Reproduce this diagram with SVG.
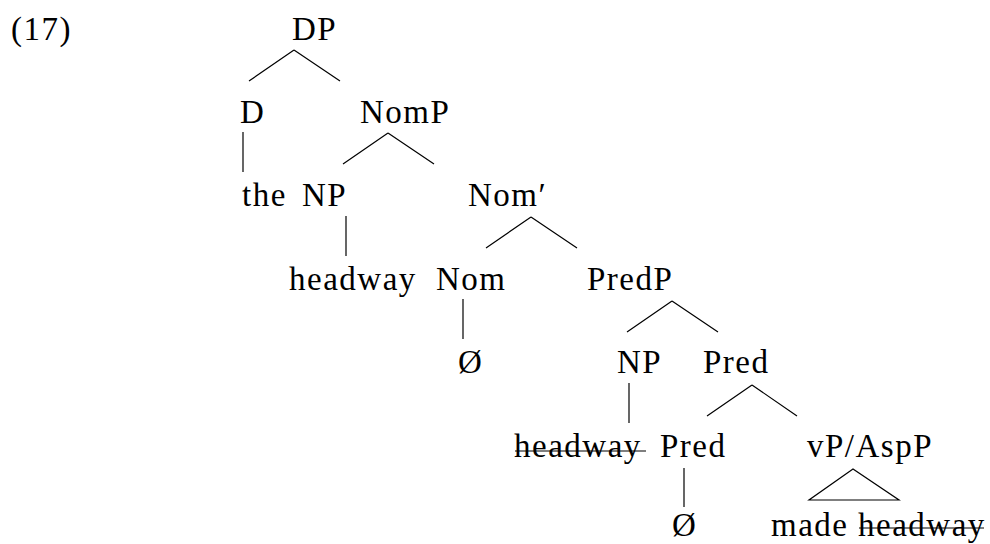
<svg xmlns="http://www.w3.org/2000/svg" width="990" height="544" viewBox="0 0 990 544">
<style>
text{font-family:"Liberation Serif","Times New Roman",serif;font-size:33px;fill:#000;letter-spacing:1.5px}
.e{stroke:#000;stroke-width:1.2;fill:none}
</style>
<rect width="990" height="544" fill="#fff"/>
<g id="label"><text x="11" y="40">(17)</text></g>
<g id="connectors" class="e">
<path d="M294 50L249 81M294 50L340 81"/>
<path d="M243 132V172"/>
<path d="M388 133L343 164M388 133L434 164"/>
<path d="M346 216V256"/>
<path d="M531 217L486 248M531 217L577 248"/>
<path d="M463 299V339"/>
<path d="M672 301L627 332M672 301L718 332"/>
<path d="M629 383V423"/>
<path d="M752 385L707 416M752 385L797 416"/>
<path d="M684 468V507"/>
<path d="M853 469L809 500H899Z" stroke-linejoin="miter"/>
</g>
<g id="n-DP"><text x="292" y="40">DP</text></g>
<g id="n-D"><text x="240" y="123">D</text></g>
<g id="n-NomP"><text x="360" y="123">NomP</text></g>
<g id="n-the"><text x="242" y="206">the</text></g>
<g id="n-NP1"><text x="302" y="206">NP</text></g>
<g id="n-Nombar"><text x="468" y="206">Nom′</text></g>
<g id="n-headway1"><text x="289" y="290">headway</text></g>
<g id="n-Nom"><text x="436" y="290">Nom</text></g>
<g id="n-PredP"><text x="587" y="290">PredP</text></g>
<g id="n-null1"><text x="458" y="373">Ø</text></g>
<g id="n-NP2"><text x="617" y="373">NP</text></g>
<g id="n-Predbar"><text x="703" y="373">Pred</text></g>
<g id="n-headway2"><text x="514" y="457">headway</text><line class="e" x1="515" y1="451" x2="646" y2="451"/></g>
<g id="n-Pred"><text x="660" y="457">Pred</text></g>
<g id="n-vP"><text x="807" y="457">vP/AspP</text></g>
<g id="n-null2"><text x="672" y="536">Ø</text></g>
<g id="n-made"><text x="771" y="536">made <tspan x="858">headway</tspan></text><line class="e" x1="859" y1="528" x2="984" y2="528"/></g>
</svg>
